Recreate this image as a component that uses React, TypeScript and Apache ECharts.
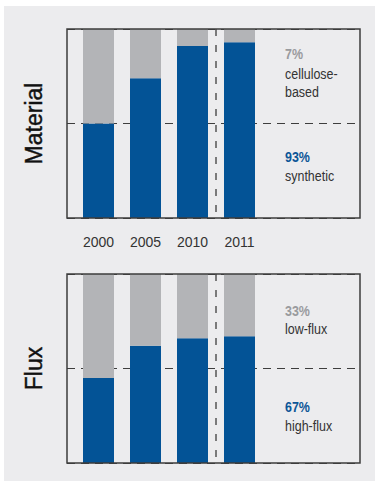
import React, { useEffect, useRef } from "react";
import * as echarts from "echarts";

// Share of dialysis membranes by year (percent)
const years = ["2000", "2005", "2010", "2011"];
const synthetic = [50, 74, 91, 93];
const celluloseBased = [50, 26, 9, 7];
const highFlux = [45, 62, 66, 67];
const lowFlux = [55, 38, 34, 33];

const BLUE = "#035396";
const GREY_BAR = "#B3B4B7";
const LINE = "#3d3d3d";
const TEXT = "#333333";
const SANS = "'Liberation Sans', Arial, sans-serif";

// panel geometry
const FRAME_LEFT = 67;
const FRAME_WIDTH = 293;
const BARS_LEFT = 75;
const BARS_WIDTH = 188;
const PANEL_H = 189;
const TOP1 = 29;
const TOP2 = 274;

export default function App() {
  const ref = useRef<HTMLDivElement>(null);

  useEffect(() => {
    if (!ref.current) return;
    const chart = echarts.init(ref.current, undefined, { renderer: "svg" });

    const frameGrid = (top: number) => ({
      left: FRAME_LEFT,
      top,
      width: FRAME_WIDTH,
      height: PANEL_H,
      show: true,
      z: 10,
      backgroundColor: "transparent",
      borderColor: LINE,
      borderWidth: 1.5,
    });
    const barsGrid = (top: number) => ({
      left: BARS_LEFT,
      top,
      width: BARS_WIDTH,
      height: PANEL_H,
    });
    const frameX = (gridIndex: number) => ({
      type: "value",
      gridIndex,
      show: false,
      min: 0,
      max: 1,
    });
    const frameY = (gridIndex: number) => ({
      type: "value",
      gridIndex,
      min: 0,
      max: 100,
      interval: 50,
      axisLine: { show: false },
      axisTick: { show: false },
      axisLabel: { show: false },
      splitLine: { show: true, lineStyle: { color: LINE, width: 1.2, type: [8, 6] } },
    });
    const barsX = (gridIndex: number, labels: boolean) => ({
      type: "category",
      gridIndex,
      data: years,
      axisLine: { show: false },
      axisTick: { show: false },
      splitLine: { show: false },
      axisLabel: {
        show: labels,
        margin: 17,
        color: TEXT,
        fontSize: 14,
        fontFamily: SANS,
      },
    });
    const barsY = (gridIndex: number) => ({
      type: "value",
      gridIndex,
      min: 0,
      max: 100,
      show: false,
    });
    const bar = (name: string, data: number[], color: string, axis: number, stack: string) => ({
      name,
      type: "bar",
      stack,
      xAxisIndex: axis,
      yAxisIndex: axis,
      data,
      barWidth: 31,
      itemStyle: { color },
      emphasis: { disabled: true },
    });

    chart.setOption({
      animation: false,
      grid: [frameGrid(TOP1), barsGrid(TOP1), frameGrid(TOP2), barsGrid(TOP2)],
      xAxis: [frameX(0), barsX(1, true), frameX(2), barsX(3, false)],
      yAxis: [frameY(0), barsY(1), frameY(2), barsY(3)],
      series: [
        bar("synthetic", synthetic, BLUE, 1, "material"),
        bar("cellulose-based", celluloseBased, GREY_BAR, 1, "material"),
        bar("high-flux", highFlux, BLUE, 3, "flux"),
        bar("low-flux", lowFlux, GREY_BAR, 3, "flux"),
      ],
    });

    // dashed divider between 2010 and 2011, placed through the axis scales
    const divider = (axis: number) => {
      const a = chart.convertToPixel({ xAxisIndex: axis }, years[2]) as number;
      const b = chart.convertToPixel({ xAxisIndex: axis }, years[3]) as number;
      const y1 = chart.convertToPixel({ yAxisIndex: axis }, 100) as number;
      const y0 = chart.convertToPixel({ yAxisIndex: axis }, 0) as number;
      const x = (a + b) / 2;
      return {
        type: "line",
        silent: true,
        shape: { x1: x, y1, x2: x, y2: y0 },
        style: { stroke: LINE, lineWidth: 1.3, lineDash: [7, 9] },
      };
    };

    const last = years.length - 1;
    // condensed annotation text next to each panel
    const note = (text: string, x: number, y: number, color: string, bold: boolean) => ({
      type: "text",
      x,
      y,
      scaleX: 0.86,
      silent: true,
      style: {
        text,
        fill: color,
        font: `${bold ? "bold " : ""}14.5px ${SANS}`,
        textAlign: "left",
        textVerticalAlign: "middle",
      },
    });
    const sideTitle = (text: string, y: number) => ({
      type: "text",
      x: 33.5,
      y,
      rotation: Math.PI / 2,
      silent: true,
      style: {
        text,
        fill: "#111111",
        font: `23px ${SANS}`,
        textAlign: "center",
        textVerticalAlign: "middle",
        stroke: "#111111",
        lineWidth: 0.4,
      },
    });

    chart.setOption({
      graphic: [
        divider(1),
        divider(3),
        sideTitle("Material", TOP1 + PANEL_H / 2),
        sideTitle("Flux", TOP2 + PANEL_H / 2),
        note(`${celluloseBased[last]}%`, 285, 54.5, "#9a9b9e", true),
        note("cellulose-", 285, 74.5, TEXT, false),
        note("based", 285, 92.5, TEXT, false),
        note(`${synthetic[last]}%`, 285, 157.5, "#0c5697", true),
        note("synthetic", 285, 176.5, TEXT, false),
        note(`${lowFlux[last]}%`, 285, 311, "#9a9b9e", true),
        note("low-flux", 285, 329.5, TEXT, false),
        note(`${highFlux[last]}%`, 285, 407.5, "#0c5697", true),
        note("high-flux", 285, 426.5, TEXT, false),
      ],
    });

    return () => chart.dispose();
  }, []);

  return (
    <div style={{ position: "absolute", left: 0, top: 0, width: 375, height: 481, background: "#ffffff" }}>
      <div style={{ position: "absolute", left: 4, top: 6, right: 0, bottom: 0, background: "#ECECEE" }} />
      <div ref={ref} style={{ position: "absolute", left: 0, top: 0, width: 375, height: 481 }} />
    </div>
  );
}
